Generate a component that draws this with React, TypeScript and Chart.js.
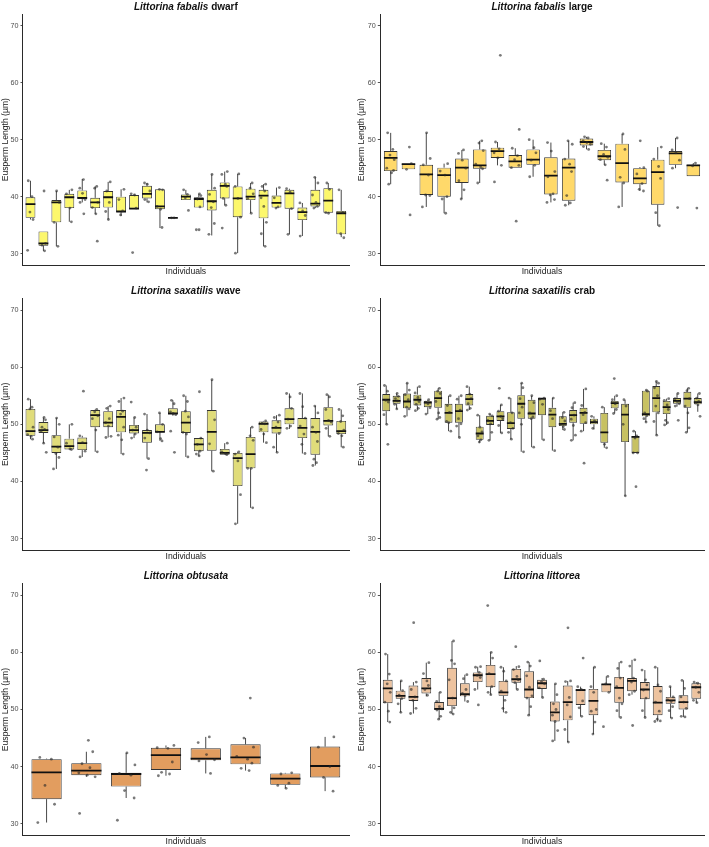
import React, { useEffect, useRef } from "react";
import { Chart, registerables } from "chart.js";

Chart.register(...registerables);
Chart.defaults.font.family = '"Liberation Sans", Arial, sans-serif';

// Each box: [lower whisker, Q1, median, Q3, upper whisker]
const dwarfBoxes = [
  [36.0, 36.3, 38.7, 39.9, 42.8], [30.5, 31.4, 31.8, 33.9, 33.9], [31.3, 35.5, 39.0, 39.4, 41.0],
  [35.6, 38.0, 39.9, 40.5, 41.2], [39.0, 39.6, 39.8, 41.1, 43.1], [37.0, 38.0, 39.0, 39.8, 41.8],
  [36.0, 38.1, 39.9, 41.0, 42.6], [36.6, 37.3, 37.4, 40.0, 41.3], [37.9, 37.9, 37.9, 40.3, 40.5],
  [39.0, 39.7, 40.5, 41.9, 42.4], [34.5, 37.8, 38.3, 41.3, 41.3], [36.3, 36.3, 36.3, 36.3, 36.3],
  [39.4, 39.4, 40.0, 40.4, 41.2], [38.1, 38.1, 39.6, 39.9, 40.5], [33.2, 37.6, 39.2, 41.2, 43.9],
  [38.5, 39.7, 41.9, 42.5, 44.4], [30.1, 36.4, 39.7, 41.8, 44.0], [37.1, 39.4, 40.0, 41.4, 42.4],
  [31.3, 36.2, 40.2, 41.2, 42.2], [38.0, 38.1, 38.9, 40.2, 41.6], [33.4, 37.9, 40.6, 41.2, 41.4],
  [33.1, 35.9, 37.3, 38.1, 38.9], [38.0, 38.3, 38.8, 41.2, 43.4], [37.1, 37.2, 39.3, 41.5, 42.4],
  [32.9, 33.4, 37.1, 37.5, 41.2],
];
const dwarfPoints = [
  [42.8, 40.0, 37.3, 36.0, 30.6], [41.0, 31.8, 31.5, 30.5], [41.0, 39.0, 35.5, 31.3],
  [41.2, 40.5, 38.0, 35.6], [43.0, 41.5, 40.6, 39.5, 39.0, 37.0], [41.8, 41.5, 39.0, 38.1, 37.0, 32.2],
  [42.6, 41.0, 39.0, 37.4, 36.0], [41.3, 39.5, 37.5, 36.8], [40.5, 40.3, 38.0, 30.2],
  [42.4, 42.2, 41.0, 39.5, 39.1], [41.3, 41.2, 38.3, 37.8, 34.6], [36.3, 36.3],
  [41.2, 40.4, 39.8, 37.6], [40.5, 40.2, 39.6, 38.2, 34.2, 34.2], [43.9, 41.5, 40.4, 39.1, 38.1, 35.3, 33.4],
  [44.4, 43.9, 42.2, 41.8, 39.7, 38.5, 34.5], [44.0, 41.8, 39.7, 36.4, 30.1], [42.4, 41.5, 40.5, 39.7, 37.1],
  [42.2, 41.8, 41.0, 39.8, 38.3, 35.5, 33.5, 31.3], [41.6, 39.8, 38.2, 38.0], [41.4, 40.8, 37.9, 33.4],
  [38.9, 37.5, 36.7, 33.1], [43.4, 42.4, 40.3, 39.0, 38.3, 38.0], [42.4, 41.3, 37.2, 37.1],
  [41.2, 37.2, 33.5, 32.8],
];

const largeBoxes = [
  [42.2, 44.5, 46.8, 48.0, 51.2], [44.8, 44.8, 45.7, 45.8, 45.8], [38.2, 40.3, 43.9, 45.6, 51.2],
  [37.1, 40.0, 43.8, 45.1, 45.8], [39.6, 42.4, 45.1, 46.7, 48.2], [42.4, 44.9, 45.5, 48.3, 49.8],
  [45.5, 46.8, 48.0, 48.6, 49.6], [45.1, 45.1, 46.2, 47.3, 48.5], [43.5, 45.6, 46.5, 48.3, 50.0],
  [39.0, 40.4, 43.7, 46.9, 49.5], [38.5, 39.3, 45.1, 46.7, 49.8], [48.3, 49.0, 49.6, 50.2, 50.5],
  [45.6, 46.4, 47.1, 48.2, 49.3], [38.2, 42.5, 45.9, 49.3, 51.0], [41.0, 42.2, 43.2, 45.0, 45.2],
  [34.9, 38.6, 44.3, 46.5, 48.7], [45.0, 45.6, 47.6, 48.0, 50.3], [43.6, 43.6, 45.5, 45.6, 45.9],
];
const largePoints = [
  [51.2, 48.3, 47.3, 46.5, 45.0, 44.2, 44.6, 42.2], [48.7, 45.8, 44.8, 36.8],
  [51.2, 46.7, 45.6, 43.8, 40.3, 40.2, 38.2], [45.8, 44.5, 43.8, 40.0, 39.6, 37.1],
  [48.2, 47.6, 46.4, 45.0, 42.8, 41.2, 39.6], [49.8, 49.4, 48.1, 45.7, 45.2, 44.9, 42.4],
  [64.8, 49.6, 48.4, 47.7, 46.8, 45.5, 42.6], [51.8, 48.5, 47.2, 46.5, 45.5, 45.1, 35.7],
  [50.0, 48.6, 47.7, 46.4, 45.5, 43.5], [49.5, 48.0, 44.4, 43.5, 40.5, 40.3, 39.5, 39.0],
  [49.8, 49.2, 46.6, 45.7, 44.4, 40.2, 38.9, 38.5], [50.5, 50.3, 49.8, 49.5, 49.2, 48.8, 48.3],
  [49.3, 48.7, 47.4, 46.9, 46.5, 45.6, 42.9], [51.0, 48.3, 43.4, 42.4, 38.2],
  [49.8, 45.1, 44.0, 42.3, 41.3, 41.0], [48.7, 46.6, 45.3, 43.2, 37.2, 34.9],
  [50.3, 48.2, 47.7, 46.4, 45.0, 38.1], [45.9, 45.4, 38.0],
];

const waveBoxes = [
  [47.4, 48.0, 48.8, 52.7, 54.4], [46.7, 48.5, 49.0, 50.4, 51.2], [42.2, 45.0, 46.1, 48.1, 51.1],
  [45.6, 45.6, 46.2, 47.5, 50.0], [44.3, 45.5, 46.7, 47.7, 48.0], [45.2, 49.5, 51.6, 52.5, 52.6],
  [47.7, 49.5, 50.3, 52.3, 53.2], [44.8, 48.6, 51.3, 52.5, 54.6], [47.6, 48.4, 49.0, 49.9, 51.2],
  [44.0, 46.8, 48.5, 49.0, 51.8], [47.1, 48.7, 48.7, 50.0, 52.0], [51.5, 51.8, 51.9, 52.8, 54.2],
  [44.3, 48.5, 50.3, 52.3, 55.0], [44.5, 45.3, 46.5, 47.6, 47.6], [41.8, 45.4, 48.7, 52.5, 57.8],
  [44.7, 44.7, 45.0, 45.7, 46.7], [32.6, 39.2, 44.1, 45.0, 45.2], [35.4, 42.3, 44.8, 47.8, 49.5],
  [46.8, 48.6, 50.1, 50.5, 50.6], [45.1, 48.4, 49.4, 50.7, 51.6], [49.2, 50.0, 50.9, 52.8, 55.4],
  [44.9, 47.6, 49.4, 51.1, 55.4], [42.8, 44.7, 48.7, 51.1, 53.2], [47.9, 49.8, 50.6, 53.0, 55.2],
  [46.0, 48.3, 48.8, 50.6, 52.6],
];
const wavePoints = [
  [54.4, 53.0, 52.7, 49.5, 48.2, 47.9, 47.4], [51.2, 50.8, 49.5, 49.1, 48.8, 46.7, 45.1],
  [51.1, 50.0, 47.8, 46.0, 44.9, 44.2, 42.2], [50.0, 46.7, 45.7, 45.6], [55.8, 48.0, 46.8, 45.3, 44.3],
  [52.6, 52.2, 51.5, 51.0, 49.0, 45.2], [53.2, 52.8, 51.0, 50.3, 49.7, 47.9, 47.7],
  [54.6, 54.0, 52.3, 51.8, 49.5, 48.1, 47.3, 44.8], [53.9, 51.2, 49.5, 49.0, 48.3, 47.6],
  [51.8, 49.0, 48.5, 47.6, 44.0, 42.0], [52.0, 50.0, 48.7, 47.5, 47.1],
  [54.2, 53.6, 52.2, 51.9, 51.7, 48.8, 45.1], [55.0, 54.0, 52.3, 51.3, 48.6, 48.3, 44.3],
  [55.7, 47.6, 46.5, 45.3, 44.8, 44.5], [57.8, 50.8, 46.6, 41.8], [46.7, 45.2, 44.9, 44.7],
  [45.2, 44.8, 43.6, 37.7, 32.6], [49.5, 48.0, 47.2, 42.3, 42.3, 35.4],
  [50.6, 50.2, 50.1, 49.1, 48.3, 46.8], [51.6, 51.2, 50.4, 49.5, 48.4, 46.0, 45.1],
  [55.4, 54.8, 52.8, 50.9, 49.7, 49.3], [55.4, 53.1, 51.1, 49.7, 48.3, 46.5, 44.9],
  [53.2, 52.0, 49.5, 48.6, 47.0, 43.9, 43.3, 42.8], [55.2, 54.8, 52.6, 50.7, 50.4, 49.3, 47.9],
  [52.6, 51.5, 50.5, 49.0, 48.4, 48.0, 46.0],
];

const crabBoxes = [
  [50.0, 52.3, 54.3, 55.3, 56.8], [52.7, 53.6, 54.1, 55.0, 55.4], [51.4, 52.8, 54.0, 55.4, 57.2],
  [52.4, 53.3, 54.3, 55.2, 56.6], [51.8, 53.0, 53.8, 54.1, 54.3], [50.9, 52.9, 54.6, 55.9, 56.3],
  [48.8, 50.3, 52.0, 53.6, 55.0], [47.7, 50.3, 52.3, 53.6, 55.0], [52.5, 53.3, 54.4, 55.3, 56.6],
  [46.8, 47.3, 48.4, 49.6, 51.6], [47.2, 49.9, 50.6, 51.5, 51.8], [48.5, 50.6, 51.4, 52.3, 53.4],
  [47.4, 49.2, 50.2, 52.1, 54.6], [45.2, 51.0, 53.6, 55.1, 57.2], [46.0, 51.0, 51.9, 54.3, 55.0],
  [47.3, 51.6, 54.5, 54.5, 54.6], [45.4, 49.5, 51.7, 52.9, 54.6], [49.0, 49.7, 50.1, 51.4, 52.1],
  [47.2, 50.3, 51.6, 52.5, 53.8], [48.8, 50.1, 52.0, 52.9, 56.2], [49.1, 50.0, 50.4, 51.0, 51.4],
  [45.9, 46.8, 48.6, 52.0, 53.0], [51.9, 52.8, 53.7, 54.1, 55.0], [37.5, 46.9, 51.7, 53.6, 54.3],
  [45.0, 45.0, 47.8, 47.9, 48.8], [50.4, 51.4, 51.8, 55.9, 56.0], [48.1, 52.1, 54.6, 56.7, 57.5],
  [49.9, 51.8, 53.0, 54.1, 54.5], [53.1, 53.6, 54.1, 54.6, 55.4], [48.6, 52.9, 54.5, 55.7, 56.3],
  [52.2, 53.5, 53.9, 54.6, 55.4],
];
const crabPoints = [
  [56.8, 55.8, 54.2, 53.9, 51.7, 50.0, 46.5], [55.4, 54.9, 54.5, 54.1, 53.5, 52.7],
  [57.2, 56.0, 55.2, 54.3, 53.0, 52.7, 51.4], [56.6, 55.5, 54.7, 54.0, 53.5, 52.8, 52.4],
  [54.3, 53.9, 53.6, 52.9, 51.8], [56.3, 55.8, 55.4, 54.0, 52.0, 51.2, 50.9],
  [55.0, 53.3, 52.1, 50.5, 50.3, 48.8], [55.0, 54.4, 52.5, 51.0, 50.1, 49.7, 47.7],
  [56.6, 55.3, 54.5, 53.6, 52.8, 52.5], [51.6, 49.5, 48.7, 48.0, 47.3, 46.9],
  [51.8, 51.5, 50.7, 50.1, 48.6, 47.2], [56.3, 53.4, 52.3, 51.4, 51.0, 49.8, 48.5],
  [54.6, 52.0, 50.3, 49.3, 48.6, 47.4], [57.2, 56.4, 54.5, 53.0, 52.0, 50.0, 45.2],
  [55.0, 53.8, 52.0, 51.3, 51.0, 46.0], [54.6, 54.4, 53.5, 47.3], [54.6, 52.4, 51.0, 45.4],
  [52.1, 51.2, 50.6, 50.0, 49.6, 49.1], [53.8, 52.9, 51.6, 50.9, 49.8, 48.1, 47.2],
  [56.2, 53.3, 52.1, 51.7, 50.3, 48.8, 43.2], [51.4, 50.6, 50.4, 49.3], [53.0, 46.5, 45.9],
  [58.0, 55.0, 54.3, 53.6, 52.6, 51.9], [54.3, 53.2, 50.0, 37.5], [48.8, 48.0, 47.6, 45.0, 45.0, 39.1],
  [56.0, 55.8, 52.0, 51.5, 51.0, 50.4], [57.5, 57.2, 56.4, 55.0, 53.2, 52.0, 50.5, 48.1],
  [54.5, 54.2, 53.4, 52.6, 50.7, 50.3, 49.9], [55.4, 54.5, 54.0, 53.6, 53.2, 50.7],
  [56.3, 55.9, 54.5, 53.2, 52.0, 49.4, 48.6], [55.4, 54.6, 54.0, 53.7, 53.4, 51.4],
];

const obtusataBoxes = [
  [30.2, 34.3, 39.0, 41.3, 41.4], [38.2, 38.5, 39.3, 40.6, 42.6], [34.5, 36.5, 38.7, 38.9, 42.4],
  [38.4, 39.4, 42.0, 43.3, 43.7], [38.8, 41.1, 41.4, 43.2, 45.2], [39.3, 40.4, 41.6, 43.9, 45.0],
  [36.2, 36.8, 37.9, 38.8, 38.9], [35.7, 38.1, 40.1, 43.5, 45.2],
];
const obtusataPoints = [
  [41.6, 41.3, 36.7, 33.4, 30.2], [44.6, 42.6, 40.5, 39.8, 38.9, 38.5, 38.2, 31.8],
  [42.4, 40.3, 38.8, 38.5, 35.8, 34.5, 30.6], [43.7, 43.3, 43.2, 40.8, 39.0, 38.7, 38.4],
  [45.2, 44.2, 42.1, 41.2, 41.0, 38.8], [52.0, 45.0, 43.4, 41.8, 41.3, 40.6, 39.7, 39.3],
  [38.9, 38.7, 37.1, 36.7, 36.2], [45.2, 43.4, 40.0, 38.1, 35.7],
];

const littoreaBoxes = [
  [47.8, 51.1, 53.7, 55.2, 59.7], [49.5, 51.9, 52.4, 53.3, 55.0], [49.3, 51.5, 52.2, 54.2, 54.8],
  [52.3, 52.8, 53.7, 55.5, 58.2], [48.3, 49.9, 50.1, 51.3, 53.0], [49.2, 50.6, 52.0, 57.3, 62.0],
  [51.4, 52.3, 52.7, 54.6, 56.1], [53.5, 54.8, 56.0, 56.5, 57.5], [52.6, 53.9, 56.2, 57.8, 60.0],
  [49.5, 52.4, 53.0, 55.0, 57.4], [53.5, 54.7, 55.3, 57.1, 57.6], [49.0, 52.0, 53.5, 56.7, 58.3],
  [52.1, 53.6, 54.6, 55.2, 55.5], [44.5, 47.9, 49.5, 51.4, 54.5], [44.3, 48.1, 51.3, 54.2, 55.0],
  [48.8, 50.8, 53.4, 53.6, 54.0], [45.7, 49.0, 51.5, 53.6, 57.4], [53.0, 53.0, 54.4, 54.5, 55.8],
  [48.6, 51.2, 53.8, 55.7, 58.3], [52.6, 53.2, 55.0, 55.5, 58.7], [48.6, 51.8, 53.5, 54.8, 56.9],
  [47.9, 49.0, 51.2, 54.1, 57.4], [48.5, 51.0, 51.6, 52.2, 54.0], [48.7, 50.0, 51.3, 52.5, 55.1],
  [51.2, 51.9, 53.9, 54.6, 54.8],
];
const littoreaPoints = [
  [59.7, 56.2, 54.5, 53.0, 51.3, 49.7, 47.8], [55.0, 53.3, 52.5, 51.9, 51.0, 49.5],
  [65.2, 54.8, 53.5, 52.2, 51.6, 50.2, 49.3], [58.2, 56.3, 55.0, 54.2, 53.5, 52.5],
  [53.0, 51.4, 50.5, 50.1, 49.9, 48.8, 48.3], [62.0, 58.6, 58.0, 55.2, 52.0, 50.3, 49.5, 49.2],
  [56.1, 55.4, 53.5, 52.8, 52.4, 51.4], [57.5, 57.4, 56.5, 56.0, 55.6, 53.5, 50.8],
  [68.2, 60.0, 59.0, 56.3, 54.0, 53.0, 52.6], [57.4, 56.7, 55.0, 53.2, 51.6, 50.2, 49.5],
  [61.0, 57.5, 57.0, 55.8, 55.2, 54.7, 53.5], [58.3, 57.6, 55.9, 53.9, 52.4, 52.0, 50.5, 49.0],
  [58.5, 55.3, 54.9, 54.5, 53.8, 52.1], [54.5, 52.6, 51.0, 50.0, 49.0, 47.9, 46.3, 44.5],
  [64.3, 55.0, 54.9, 52.1, 50.8, 48.7, 46.5, 44.3], [59.0, 54.0, 53.5, 51.5, 50.3, 48.8],
  [57.4, 54.0, 53.0, 50.0, 49.7, 47.8, 45.7], [55.8, 54.5, 53.0, 47.0],
  [58.3, 57.2, 55.5, 54.0, 52.0, 51.0, 49.8, 48.6], [58.7, 57.6, 55.5, 54.8, 53.2, 52.6, 47.2],
  [56.9, 55.2, 54.3, 53.4, 52.0, 49.8, 48.6], [57.4, 54.3, 53.2, 51.3, 49.7, 48.3, 48.0, 47.9],
  [54.0, 52.2, 51.7, 51.4, 50.5, 49.8, 48.5], [55.1, 53.7, 52.2, 51.3, 50.2, 48.8, 48.7],
  [54.8, 54.6, 53.9, 53.0, 51.6, 51.2],
];

const yTicks = [30, 40, 50, 60, 70];
const yMin = 28;
const yMax = 72;
const yTitle = "Eusperm Length (\u00b5m)";
const xTitle = "Individuals";

const panels = [
  { boxes: dwarfBoxes, points: dwarfPoints, italic: "Littorina fabalis", plain: "dwarf", fill: "#FCF76C" },
  { boxes: largeBoxes, points: largePoints, italic: "Littorina fabalis", plain: "large", fill: "#FFD96A" },
  { boxes: waveBoxes, points: wavePoints, italic: "Littorina saxatilis", plain: "wave", fill: "#E0DC7A" },
  { boxes: crabBoxes, points: crabPoints, italic: "Littorina saxatilis", plain: "crab", fill: "#C7C162" },
  { boxes: obtusataBoxes, points: obtusataPoints, italic: "Littorina obtusata", plain: "", fill: "#E29D5F" },
  { boxes: littoreaBoxes, points: littoreaPoints, italic: "Littorina littorea", plain: "", fill: "#EDC39F" },
];

// Grid cell geometry (px): rows and columns of the 2 x 3 layout
const ROWS = [
  { top: 0, h: 281, areaTop: 14.3, areaBottom: 265.1, titleY: 7 },
  { top: 281, h: 284, areaTop: 17.6, areaBottom: 269.1, titleY: 10 },
  { top: 565, h: 282, areaTop: 18.9, areaBottom: 270.1, titleY: 11 },
];
const COLS = [
  { left: 0, w: 354, axisLeft: 22.7, right: 349, yTitleX: 5 },
  { left: 354, w: 355, axisLeft: 26, right: 350, yTitleX: 8 },
];

const BOX_W = 0.76;
const JITTER = [-0.17, 0.12, -0.04, 0.2, -0.22, 0.05, 0.16, -0.11, 0.09, -0.19, 0.02, 0.22];
const LINE = "#333333";
const AXIS = "#2a2a2a";
const TICK_SIZE = 7.2;
const AXIS_TITLE_SIZE = 8.6;
const TITLE_SIZE = 10;

type PanelCfg = (typeof panels)[number];

function Panel({ cfg, row, col }: { cfg: PanelCfg; row: (typeof ROWS)[number]; col: (typeof COLS)[number] }) {
  const ref = useRef<HTMLCanvasElement>(null);

  useEffect(() => {
    const canvas = ref.current;
    if (!canvas) return;
    const n = cfg.boxes.length;

    const boxData = cfg.boxes.map((b, i) => ({ x: i, y: [b[1], b[3]] }));
    const whiskers: { x: number; y: number | null }[] = [];
    const medians: { x: number; y: number | null }[] = [];
    cfg.boxes.forEach((b, i) => {
      whiskers.push({ x: i, y: b[0] }, { x: i, y: b[1] }, { x: i, y: null });
      whiskers.push({ x: i, y: b[3] }, { x: i, y: b[4] }, { x: i, y: null });
      medians.push({ x: i - BOX_W / 2, y: b[2] }, { x: i + BOX_W / 2, y: b[2] }, { x: i, y: null });
    });
    const pts: { x: number; y: number }[] = [];
    cfg.points.forEach((vals, i) =>
      vals.forEach((v, j) => pts.push({ x: i + JITTER[(i * 5 + j) % JITTER.length], y: v }))
    );

    const lh = AXIS_TITLE_SIZE * 1.2;
    const xScaleH = row.h - row.areaBottom;
    const xTitlePad = Math.max(0, xScaleH - 7 - lh / 2);

    const titlePlugin = {
      id: "panelTitle",
      afterDraw(chart: Chart) {
        const { ctx, chartArea } = chart;
        const fam = '"Liberation Sans", Arial, sans-serif';
        const fi = `italic bold ${TITLE_SIZE}px ${fam}`;
        const fb = `bold ${TITLE_SIZE}px ${fam}`;
        ctx.save();
        ctx.font = fi;
        const w1 = ctx.measureText(cfg.italic).width;
        ctx.font = fb;
        const rest = cfg.plain ? " " + cfg.plain : "";
        const w2 = rest ? ctx.measureText(rest).width : 0;
        const x0 = (chartArea.left + chartArea.right) / 2 - (w1 + w2) / 2;
        ctx.textBaseline = "middle";
        ctx.textAlign = "left";
        ctx.fillStyle = "#111111";
        ctx.font = fi;
        ctx.fillText(cfg.italic, x0, row.titleY);
        if (rest) {
          ctx.font = fb;
          ctx.fillText(rest, x0 + w1, row.titleY);
        }
        ctx.restore();
      },
    };

    const chart = new Chart(canvas, {
      type: "bar",
      data: {
        datasets: [
          {
            type: "line",
            data: whiskers as any,
            borderColor: LINE,
            borderWidth: 0.9,
            pointRadius: 0,
            spanGaps: false,
            order: 4,
          },
          {
            type: "bar",
            data: boxData as any,
            backgroundColor: cfg.fill,
            borderColor: LINE,
            borderWidth: 0.9,
            borderSkipped: false,
            barPercentage: BOX_W,
            categoryPercentage: 1,
            order: 3,
          },
          {
            type: "line",
            data: medians as any,
            borderColor: "#111111",
            borderWidth: 1.8,
            pointRadius: 0,
            spanGaps: false,
            order: 2,
          },
          {
            type: "scatter",
            data: pts as any,
            pointRadius: 1.4,
            pointBackgroundColor: "rgba(40,40,40,0.62)",
            pointBorderWidth: 0,
            order: 1,
          },
        ],
      },
      options: {
        responsive: false,
        animation: false,
        devicePixelRatio: 1,
        layout: {
          padding: { top: row.areaTop, right: col.w - col.right, bottom: 0, left: 0 },
        },
        plugins: { legend: { display: false }, tooltip: { enabled: false } },
        events: [],
        scales: {
          x: {
            type: "linear",
            min: -0.6,
            max: n - 0.4,
            offset: false,
            afterBuildTicks: (s: any) => {
              s.ticks = cfg.boxes.map((_, i) => ({ value: i }));
            },
            afterFit: (s: any) => {
              s.height = xScaleH;
            },
            grid: { display: false, offset: false },
            ticks: { display: false },
            border: { display: true, color: AXIS, width: 1 },
            title: {
              display: true,
              text: xTitle,
              color: "#1a1a1a",
              font: { size: AXIS_TITLE_SIZE },
              padding: { top: 0, bottom: xTitlePad },
            },
          },
          y: {
            type: "linear",
            min: yMin,
            max: yMax,
            beginAtZero: false,
            afterBuildTicks: (s: any) => {
              s.ticks = yTicks.map((v) => ({ value: v }));
            },
            afterFit: (s: any) => {
              s.width = col.axisLeft;
            },
            grid: { display: true, drawOnChartArea: false, drawTicks: true, tickLength: 2.2, color: AXIS, lineWidth: 0.8 },
            border: { display: true, color: AXIS, width: 1 },
            ticks: { color: "#4d4d4d", font: { size: TICK_SIZE }, padding: 2 },
            title: {
              display: true,
              text: yTitle,
              color: "#1a1a1a",
              font: { size: AXIS_TITLE_SIZE },
              padding: { top: Math.max(0, col.yTitleX - lh / 2), bottom: 0 },
            },
          },
        },
      },
      plugins: [titlePlugin],
    } as any);

    return () => chart.destroy();
  }, [cfg, row, col]);

  return (
    <canvas
      ref={ref}
      width={col.w}
      height={row.h}
      style={{ position: "absolute", left: col.left, top: row.top, width: col.w, height: row.h }}
    />
  );
}

export default function App() {
  return (
    <div style={{ position: "absolute", left: 0, top: 0, width: 709, height: 847, background: "#ffffff", overflow: "hidden" }}>
      {panels.map((p, k) => (
        <Panel key={k} cfg={p} row={ROWS[Math.floor(k / 2)]} col={COLS[k % 2]} />
      ))}
    </div>
  );
}
